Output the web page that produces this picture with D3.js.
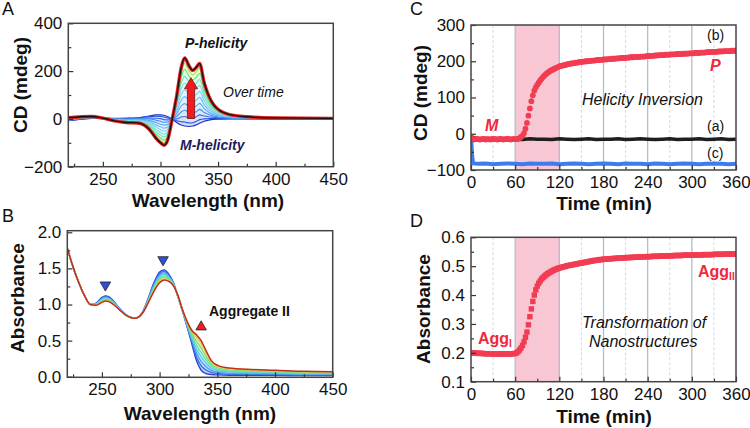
<!DOCTYPE html>
<html><head><meta charset="utf-8">
<script src="https://cdn.jsdelivr.net/npm/d3@7"></script>
<style>
body{margin:0;background:#fff;}
svg{display:block;font-family:"Liberation Sans",Arial,sans-serif;}
</style></head><body>
<svg id="chart" width="750" height="428"></svg>
<script>
// ---------- Panel A: CD spectra over time ----------
const wavelengthsA = [220,240,250,260,270,280,290,296,300,303,306,310,314,318,321,325,328,331,334,338,342,346,350,360,375,400,450];
const cdSpectra = [
  [-8,2,3,2,3,5,12,17,17,15,10,0,-15,-26,-30,-32,-30,-25,-18,-10,-5,-2,-1,0,0,0,0],
  [-7,2,3,1,2,4,9,11,10,8,4,0,-8,-12,-13,-17,-16,-11,-3,0,1,2,1,1,1,0,0],
  [-6,3,3,1,0,2,4,3,1,-3,-4,-1,0,8,10,3,3,9,17,12,9,7,5,3,1,1,0],
  [-5,4,3,0,-1,0,0,-5,-10,-14,-13,-1,10,29,36,26,24,30,40,27,18,12,8,4,2,1,0],
  [-4,5,3,-1,-3,-2,-6,-15,-22,-26,-24,-2,21,54,64,51,47,54,65,43,28,18,13,6,3,1,1],
  [-2,5,3,-2,-5,-4,-11,-25,-33,-39,-34,-2,32,78,93,76,70,78,90,59,38,25,17,8,4,2,1],
  [-1,6,3,-3,-7,-7,-17,-34,-45,-51,-44,-3,43,102,121,102,93,102,115,75,48,31,21,10,5,2,1],
  [0,7,3,-4,-8,-9,-22,-44,-57,-64,-54,-3,54,126,150,127,117,126,140,91,58,37,25,11,6,3,1],
  [1,8,3,-5,-10,-11,-27,-54,-68,-76,-64,-4,65,150,178,152,140,150,165,107,68,43,29,13,7,3,1],
  [3,9,3,-6,-12,-13,-33,-64,-80,-89,-75,-4,76,174,207,177,163,174,190,123,78,49,33,15,7,3,2],
  [4,9,3,-7,-14,-15,-38,-72,-91,-100,-84,-5,86,196,232,200,184,196,212,137,87,55,37,17,8,4,2]
];
const cdFinal = [5,10,3,-8,-15,-17,-42,-80,-100,-110,-92,-5,95,215,255,220,203,215,232,150,95,60,40,18,9,4,2];
const cdColors = ["#1a33c8","#2752dd","#3470e8","#438cef","#56a6f4","#6bbbf7","#7fcff5","#78dde0","#66e6b0","#5ee47a","#a8e048"];

// ---------- Panel B: absorption spectra ----------
const wavelengthsB = [220,225,230,235,240,245,250,253,256,260,265,270,275,278,282,286,290,295,300,304,308,312,316,320,324,328,332,336,340,345,350,360,380,400,425,450];
const absSpectra = [
  [1.78,1.52,1.30,1.12,1.00,1.02,1.10,1.12,1.11,1.05,0.95,0.87,0.82,0.81,0.83,0.92,1.08,1.30,1.45,1.48,1.42,1.30,1.10,0.90,0.68,0.45,0.22,0.09,0.045,0.03,0.025,0.02,0.02,0.02,0.015,0.015],
  [1.78,1.52,1.30,1.12,1.00,1.016,1.090,1.110,1.100,1.043,0.947,0.869,0.82,0.81,0.83,0.917,1.071,1.282,1.428,1.459,1.405,1.294,1.103,0.903,0.692,0.479,0.274,0.152,0.094,0.059,0.045,0.035,0.032,0.031,0.024,0.023],
  [1.78,1.52,1.30,1.12,1.00,1.011,1.079,1.099,1.089,1.035,0.944,0.867,0.82,0.81,0.83,0.914,1.062,1.264,1.405,1.438,1.390,1.288,1.106,0.906,0.704,0.507,0.328,0.213,0.143,0.087,0.066,0.050,0.044,0.041,0.033,0.032],
  [1.78,1.52,1.30,1.12,1.00,1.007,1.069,1.089,1.079,1.028,0.941,0.866,0.82,0.81,0.83,0.911,1.053,1.246,1.383,1.417,1.375,1.282,1.109,0.909,0.716,0.536,0.382,0.275,0.191,0.116,0.086,0.065,0.056,0.052,0.042,0.040],
  [1.78,1.52,1.30,1.12,1.00,1.002,1.058,1.078,1.068,1.020,0.938,0.864,0.82,0.81,0.83,0.908,1.044,1.228,1.360,1.396,1.360,1.276,1.112,0.912,0.728,0.564,0.436,0.336,0.240,0.144,0.106,0.080,0.068,0.062,0.051,0.048],
  [1.78,1.52,1.30,1.12,1.00,0.998,1.048,1.068,1.058,1.013,0.935,0.863,0.82,0.81,0.83,0.905,1.035,1.210,1.338,1.375,1.345,1.270,1.115,0.915,0.740,0.593,0.490,0.398,0.289,0.173,0.126,0.095,0.080,0.073,0.060,0.056],
  [1.78,1.52,1.30,1.12,1.00,0.993,1.037,1.057,1.047,1.005,0.932,0.861,0.82,0.81,0.83,0.902,1.026,1.192,1.315,1.354,1.330,1.264,1.118,0.918,0.752,0.621,0.544,0.459,0.338,0.201,0.147,0.110,0.092,0.083,0.069,0.065]
];
const absFinal = [1.78,1.52,1.30,1.12,1.00,0.99,1.03,1.05,1.04,1.00,0.93,0.86,0.82,0.81,0.83,0.90,1.02,1.18,1.30,1.34,1.32,1.26,1.12,0.92,0.76,0.64,0.58,0.50,0.37,0.22,0.16,0.12,0.10,0.09,0.075,0.07];
const absColors = ["#2748d6","#3a74e6","#4fa0f0","#62c8ee","#62e0b0","#7ee070","#d8d048"];

// ---------- Panel C: CD at fixed wavelength vs time ----------
const timeStep = 2; // min, sampling of series (b) and panel D
const cdSeriesB = [-10,
  -15,-16,-15,-14,-15,-16,-15,-15,-14,-16,-15,-15,-16,-15,-14,-15,-15,-16,-15,-14,-15,-16,-15,-15,-14,-15,-16,-15,-15,
  -15,-15,-14,-12,-9,-5,2,14,30,50,70,90,106,119,128,135,141,147,152,157,161,165,168,171,174,176,178,180,182,184,186,
  187,188,189,190,191,192,193,194,194,195,196,196,197,198,198,199,199,200,200,201,201,202,202,202,203,203,204,204,204,205,
  205,205,206,206,206,207,207,207,208,208,208,209,209,209,210,210,210,211,211,211,212,212,212,212,213,213,213,213,214,214,
  214,215,215,215,216,216,216,217,217,217,217,218,218,218,218,219,219,219,219,220,220,220,220,221,221,221,221,222,222,222,
  222,223,223,223,223,224,224,224,224,225,225,225,225,226,226,226,226,227,227,227,227,228,228,228,228,228,229,229,229,229];
const cdTimesA = [0,10,20,30,40,50,60,70,80,90,100,110,120,130,140,150,160,170,180,190,200,210,220,230,240,250,260,270,280,290,300,310,320,330,340,350,360];
const cdSeriesA = [-8,-15,-14,-16,-15,-14,-15,-16,-14,-15,-15,-16,-14,-15,-16,-15,-14,-16,-15,-15,-14,-16,-15,-14,-15,-16,-15,-14,-16,-15,-15,-14,-16,-15,-14,-16,-15];
const cdTimesC = [0,1.5,3,10,20,30,40,50,60,70,80,90,100,110,120,130,140,150,160,170,180,190,200,210,220,230,240,250,260,270,280,290,300,310,320,330,340,350,360];
const cdSeriesC = [-5,-60,-82,-83,-82,-84,-83,-82,-83,-84,-82,-83,-83,-82,-84,-83,-82,-83,-84,-83,-82,-83,-84,-82,-83,-83,-84,-82,-83,-84,-83,-82,-83,-84,-83,-82,-83,-84,-83];

// ---------- Panel D: absorbance vs time ----------
const absTime = [0.200,
  0.200,0.199,0.199,0.199,0.198,0.198,0.198,0.198,0.197,0.197,0.197,0.197,0.197,0.197,0.196,0.196,0.196,0.196,0.196,0.196,0.196,0.196,0.196,0.196,0.196,0.196,0.196,0.197,0.197,
  0.198,0.200,0.204,0.210,0.217,0.226,0.238,0.254,0.272,0.297,0.325,0.352,0.378,0.400,0.418,0.431,0.441,0.449,0.456,0.461,0.466,0.470,0.474,0.477,0.480,0.483,0.486,0.488,0.490,0.492,0.494,
  0.495,0.497,0.498,0.499,0.501,0.502,0.503,0.504,0.505,0.506,0.507,0.508,0.509,0.510,0.511,0.512,0.513,0.514,0.515,0.516,0.517,0.518,0.519,0.520,0.520,0.521,0.522,0.523,0.523,0.524,
  0.524,0.525,0.525,0.526,0.526,0.526,0.527,0.527,0.527,0.528,0.528,0.528,0.529,0.529,0.529,0.530,0.530,0.530,0.530,0.531,0.531,0.531,0.531,0.532,0.532,0.532,0.532,0.533,0.533,0.533,
  0.533,0.533,0.534,0.534,0.534,0.534,0.534,0.535,0.535,0.535,0.535,0.535,0.536,0.536,0.536,0.536,0.536,0.537,0.537,0.537,0.537,0.537,0.537,0.538,0.538,0.538,0.538,0.538,0.538,0.538,
  0.538,0.539,0.539,0.539,0.539,0.539,0.539,0.540,0.540,0.540,0.540,0.540,0.540,0.540,0.541,0.541,0.541,0.541,0.541,0.541,0.541,0.541,0.542,0.542,0.542,0.542,0.542,0.542,0.542,0.542];

// ---------- ticks ----------
const wlTicks = [250,300,350,400,450], wlMinor = [225,275,325,375,425];
const cdTicksA = [-200,0,200,400], cdMinorA = [-100,100,300];
const absTicksB = [0,0.5,1.0,1.5,2.0], absMinorB = [0.25,0.75,1.25,1.75];
const timeTicks = [0,60,120,180,240,300,360], timeMinor = [30,90,150,210,270,330];
const cdTicksC = [-100,0,100,200,300], cdMinorC = [-50,50,150,250];
const absTicksD = [0.1,0.2,0.3,0.4,0.5,0.6], absMinorD = [0.15,0.25,0.35,0.45,0.55];
const shadeRange = [60,120];

const svg = d3.select("#chart");
svg.append("rect").attr("width",750).attr("height",428).attr("fill","#fff");

function axes(g, x, y, xt, xm, yt, ym, xf, yf){
  const x0 = x.range()[0], x1 = x.range()[1], y0 = y.range()[0], y1 = y.range()[1];
  g.append("g").attr("transform",`translate(0,${y0})`)
    .call(d3.axisBottom(x).tickValues(xt).tickSize(-5).tickPadding(6).tickFormat(xf));
  g.append("g").attr("transform",`translate(0,${y0})`)
    .call(d3.axisBottom(x).tickValues(xm).tickSize(-3).tickFormat(""));
  g.append("g").attr("transform",`translate(${x0},0)`)
    .call(d3.axisLeft(y).tickValues(yt).tickSize(-5).tickPadding(6).tickFormat(yf));
  g.append("g").attr("transform",`translate(${x0},0)`)
    .call(d3.axisLeft(y).tickValues(ym).tickSize(-3).tickFormat(""));
  g.selectAll(".domain").remove();
  g.selectAll(".tick line").attr("stroke","#333").attr("stroke-width",1.2);
  g.selectAll(".tick text").attr("font-size",17).attr("fill","#111")
    .attr("font-family",'"Liberation Sans",Arial,sans-serif');
  g.append("rect").attr("x",x0).attr("y",y1).attr("width",x1-x0).attr("height",y0-y1)
    .attr("fill","none").attr("stroke","#444").attr("stroke-width",1.5);
}
function clip(id, x, y){
  svg.append("clipPath").attr("id",id).append("rect")
    .attr("x",x.range()[0]).attr("y",y.range()[1])
    .attr("width",x.range()[1]-x.range()[0]).attr("height",y.range()[0]-y.range()[1]);
}
function title(g, txt, x, y, rot){
  const t = g.append("text").attr("font-size",19).attr("font-weight","bold").attr("fill","#111")
    .attr("text-anchor","middle").text(txt);
  if (rot) t.attr("transform",`translate(${x},${y}) rotate(-90)`); else t.attr("x",x).attr("y",y);
}
function label(txt, x, y){
  svg.append("text").attr("x",x).attr("y",y).attr("font-size",18).attr("fill","#111").text(txt);
}

// ================= Panel A =================
{
  const x = d3.scaleLinear().domain([220,450]).range([68.3,333.3]);
  const y = d3.scaleLinear().domain([-200,400]).range([166.7,23.3]);
  clip("clipA", x, y);
  const g = svg.append("g");
  const pg = g.append("g").attr("clip-path","url(#clipA)");
  const pts = arr => arr.map((v,i)=>[wavelengthsA[i], v]);
  const line = d3.line().x(d=>x(d[0])).y(d=>y(d[1])).curve(d3.curveMonotoneX);
  const all = cdSpectra.concat([cdFinal]);
  for (let i=0;i<all.length-1;i++){
    const area = d3.area().x((d,j)=>x(wavelengthsA[j])).y0((d,j)=>y(all[i][j])).y1(d=>y(d)).curve(d3.curveMonotoneX);
    pg.append("path").attr("d",area(all[i+1])).attr("fill",cdColors[Math.min(i+1,cdColors.length-1)]).attr("opacity",0.2);
  }
  cdSpectra.forEach((s,i)=>{
    pg.append("path").attr("d",line(pts(s))).attr("fill","none").attr("stroke",cdColors[i]).attr("stroke-width",1.1);
  });
  pg.append("path").attr("d",line(pts(cdFinal))).attr("fill","none").attr("stroke","#e62020").attr("stroke-width",3.4);
  pg.append("path").attr("d",line(pts(cdFinal))).attr("fill","none").attr("stroke","#111").attr("stroke-width",1.3);
  // arrow
  const ax = x(326.5), yb = y(2), yt = y(172), hh = 11;
  g.append("path").attr("d",`M${ax-3.6},${yb} L${ax-3.6},${yt+hh} L${ax-6.5},${yt+hh} L${ax},${yt} L${ax+6.5},${yt+hh} L${ax+3.6},${yt+hh} L${ax+3.6},${yb} Z`)
    .attr("fill","#ee1c1c").attr("stroke","#7a1010").attr("stroke-width",0.8);
  axes(g, x, y, wlTicks, wlMinor, cdTicksA, cdMinorA, d3.format("d"), d3.format("d"));
  title(g, "Wavelength (nm)", 208, 207, false);
  title(g, "CD (mdeg)", 26.5, 85, true);
  g.append("text").attr("x",185).attr("y",48).attr("font-size",14).attr("font-weight","bold").attr("font-style","italic").attr("fill","#111").text("P-helicity");
  g.append("text").attr("x",180).attr("y",150).attr("font-size",14).attr("font-weight","bold").attr("font-style","italic").attr("fill","#1c1c5a").text("M-helicity");
  g.append("text").attr("x",223).attr("y",97).attr("font-size",14).attr("font-style","italic").attr("fill","#111").text("Over time");
}

// ================= Panel B =================
{
  const x = d3.scaleLinear().domain([220,450]).range([67.3,332.7]);
  const y = d3.scaleLinear().domain([-0.008,2.022]).range([377.3,230.7]);
  clip("clipB", x, y);
  const g = svg.append("g");
  const pg = g.append("g").attr("clip-path","url(#clipB)");
  const pts = arr => arr.map((v,i)=>[wavelengthsB[i], v]);
  const line = d3.line().x(d=>x(d[0])).y(d=>y(d[1])).curve(d3.curveMonotoneX);
  const all = absSpectra.concat([absFinal]);
  for (let i=0;i<all.length-1;i++){
    const area = d3.area().x((d,j)=>x(wavelengthsB[j])).y0((d,j)=>y(all[i][j])).y1(d=>y(d)).curve(d3.curveMonotoneX);
    pg.append("path").attr("d",area(all[i+1])).attr("fill",absColors[Math.min(i+1,absColors.length-1)]).attr("opacity",0.3);
  }
  absSpectra.forEach((s,i)=>{
    pg.append("path").attr("d",line(pts(s))).attr("fill","none").attr("stroke",absColors[i]).attr("stroke-width",1.4);
  });
  pg.append("path").attr("d",line(pts(absFinal))).attr("fill","none").attr("stroke","#c42a22").attr("stroke-width",1.5);
  // triangles
  const tri = d3.symbol().type(d3.symbolTriangle).size(48);
  [[253,1.27,true,"#2f4fd8"],[303,1.62,true,"#2f4fd8"],[336,0.69,false,"#ee1c1c"]].forEach(t=>{
    g.append("path").attr("d",tri()).attr("transform",`translate(${x(t[0])},${y(t[1])}) rotate(${t[2]?180:0})`)
      .attr("fill",t[3]).attr("stroke","#222").attr("stroke-width",0.8);
  });
  axes(g, x, y, wlTicks, wlMinor, absTicksB, absMinorB, d3.format("d"), d3.format(".1f"));
  title(g, "Wavelength (nm)", 200, 420, false);
  title(g, "Absorbance", 23.5, 298, true);
  g.append("text").attr("x",209).attr("y",316).attr("font-size",14).attr("font-weight","bold").attr("fill","#111").text("Aggregate II");
}

function gridAndShade(g, x, y){
  const y0 = y.range()[0], y1 = y.range()[1];
  g.append("rect").attr("x",x(shadeRange[0])).attr("y",y1).attr("width",x(shadeRange[1])-x(shadeRange[0])).attr("height",y0-y1)
    .attr("fill","#f9c6d3");
  timeMinor.forEach(t=>g.append("line").attr("x1",x(t)).attr("x2",x(t)).attr("y1",y1).attr("y2",y0)
    .attr("stroke","#cfdbe4").attr("stroke-width",1).attr("stroke-dasharray","3,2"));
  timeTicks.slice(1,-1).forEach(t=>g.append("line").attr("x1",x(t)).attr("x2",x(t)).attr("y1",y1).attr("y2",y0)
    .attr("stroke","#aebfcc").attr("stroke-width",1.3));
}

// ================= Panel C =================
{
  const x = d3.scaleLinear().domain([0,360]).range([471,736]);
  const y = d3.scaleLinear().domain([-100,300]).range([170,25]);
  clip("clipC", x, y);
  const g = svg.append("g");
  gridAndShade(g, x, y);
  const pg = g.append("g").attr("clip-path","url(#clipC)");
  const line = d3.line().x(d=>x(d[0])).y(d=>y(d[1]));
  pg.append("path").attr("d",line(cdTimesC.map((t,i)=>[t,cdSeriesC[i]]))).attr("fill","none")
    .attr("stroke","#3b7ded").attr("stroke-width",4);
  pg.append("path").attr("d",line(cdTimesA.map((t,i)=>[t,cdSeriesA[i]]))).attr("fill","none")
    .attr("stroke","#1e1e1e").attr("stroke-width",3.6);
  pg.selectAll("circle.b").data(cdSeriesB).join("circle").attr("class","b")
    .attr("cx",(d,i)=>x(i*timeStep)).attr("cy",d=>y(d)).attr("r",2.9).attr("fill","#f23c52");
  axes(g, x, y, timeTicks, timeMinor, cdTicksC, cdMinorC, d3.format("d"), d3.format("d"));
  title(g, "Time (min)", 604, 210, false);
  title(g, "CD (mdeg)", 427, 93, true);
  const t14 = (s,xx,yy)=>g.append("text").attr("x",xx).attr("y",yy).attr("font-size",14).attr("fill","#111").text(s);
  t14("(b)",707,40); t14("(a)",707,131); t14("(c)",707,158);
  g.append("text").attr("x",710).attr("y",71).attr("font-size",16).attr("font-weight","bold").attr("font-style","italic").attr("fill","#f0283c").text("P");
  g.append("text").attr("x",485).attr("y",131).attr("font-size",16).attr("font-weight","bold").attr("font-style","italic").attr("fill","#f0283c").text("M");
  g.append("text").attr("x",582).attr("y",105).attr("font-size",16).attr("font-style","italic").attr("fill","#111").text("Helicity Inversion");
}

// ================= Panel D =================
{
  const x = d3.scaleLinear().domain([0,360]).range([471,736]);
  const y = d3.scaleLinear().domain([0.1,0.6]).range([381.7,237.3]);
  clip("clipD", x, y);
  const g = svg.append("g");
  gridAndShade(g, x, y);
  const pg = g.append("g").attr("clip-path","url(#clipD)");
  pg.selectAll("rect.d").data(absTime).join("rect").attr("class","d")
    .attr("x",(d,i)=>x(i*timeStep)-2.7).attr("y",d=>y(d)-2.7).attr("width",5.4).attr("height",5.4).attr("fill","#f23c52");
  axes(g, x, y, timeTicks, timeMinor, absTicksD, absMinorD, d3.format("d"), d3.format(".1f"));
  title(g, "Time (min)", 604, 423, false);
  title(g, "Absorbance", 430, 309, true);
  const agg = (xx,yy,sub)=>{
    const t = g.append("text").attr("x",xx).attr("y",yy).attr("font-size",16).attr("font-weight","bold").attr("fill","#f0283c");
    t.append("tspan").text("Agg");
    t.append("tspan").attr("font-size",10).attr("dy",3).text(sub);
  };
  agg(478,344,"I"); agg(698,277,"II");
  g.append("text").attr("x",582).attr("y",328).attr("font-size",16).attr("font-style","italic").attr("fill","#111").text("Transformation of");
  g.append("text").attr("x",589).attr("y",347).attr("font-size",16).attr("font-style","italic").attr("fill","#111").text("Nanostructures");
}

label("A",2,15); label("B",2,222); label("C",410,15); label("D",410,227);
</script>
</body></html>
